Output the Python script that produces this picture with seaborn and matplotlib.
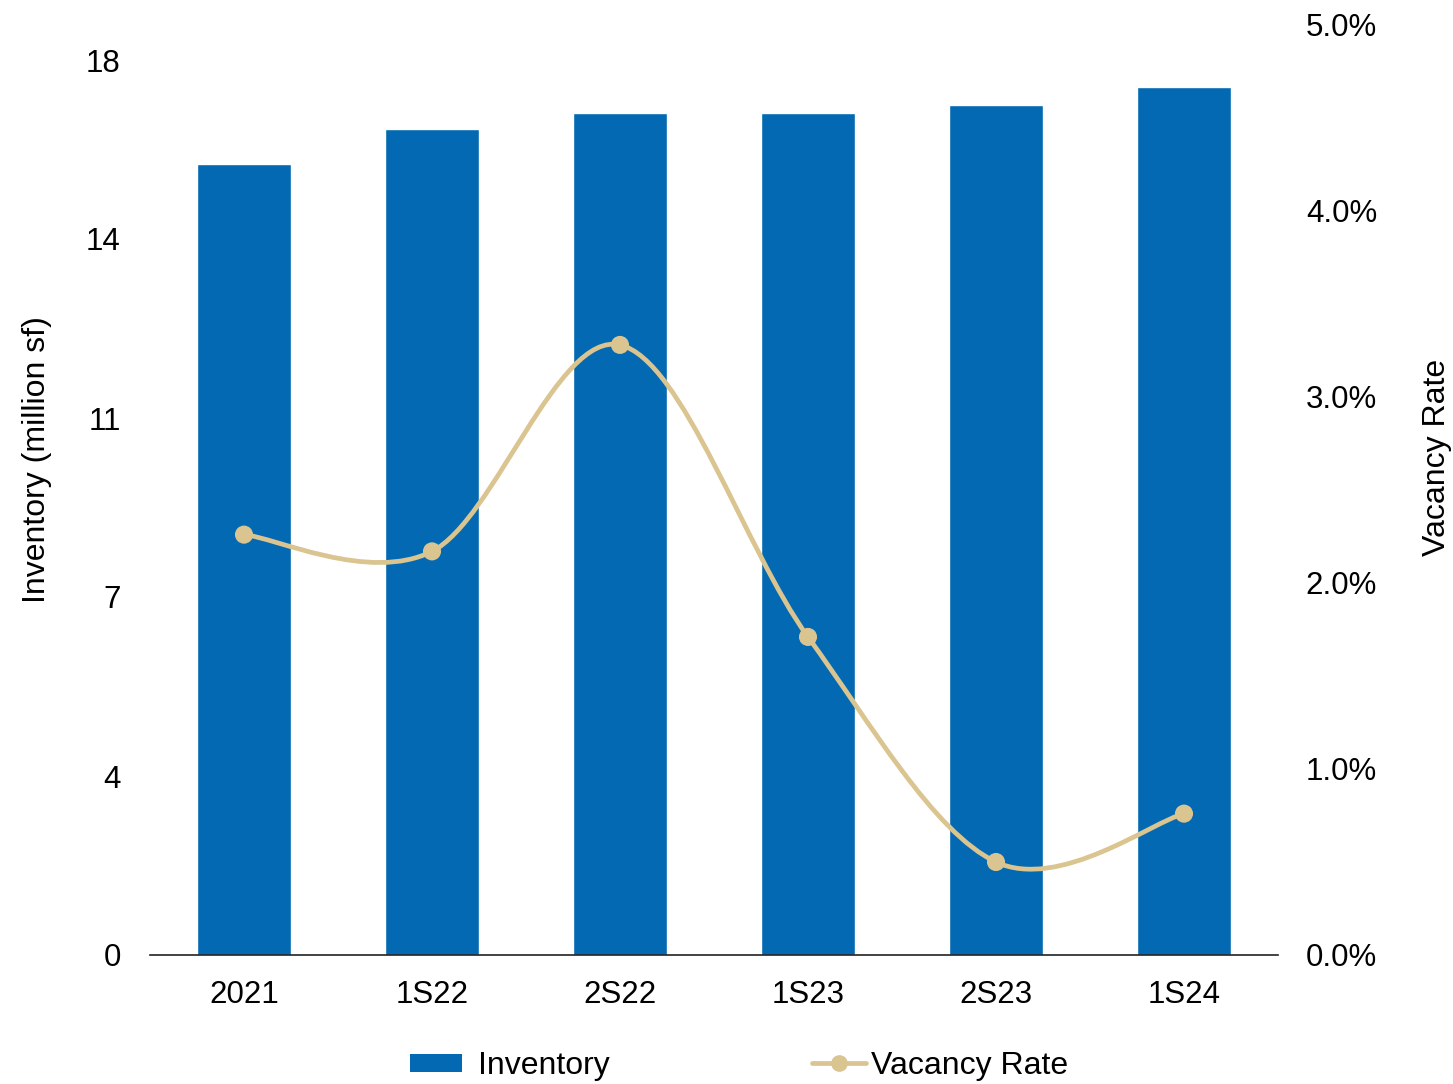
import numpy as np
import pandas as pd
import matplotlib.pyplot as plt
from matplotlib.path import Path
from matplotlib.patches import PathPatch, Patch
from matplotlib.lines import Line2D
from matplotlib.ticker import FuncFormatter
import seaborn as sns

# dados
periodos = ["2021", "1S22", "2S22", "1S23", "2S23", "1S24"]
inventario = [15.9, 16.62, 16.93, 16.93, 17.1, 17.45]
vacancia = [0.0226, 0.0217, 0.0328, 0.0171, 0.0050, 0.0076]

cor_barra = "#0369B3"
cor_linha = "#DAC48F"

sns.set_theme(style="white")
plt.rcParams["font.family"] = ["Liberation Sans", "DejaVu Sans"]
for k in ["text.color", "axes.labelcolor", "xtick.color", "ytick.color"]:
    plt.rcParams[k] = "black"

df = pd.DataFrame({"periodo": periodos, "inventario": inventario, "vacancia": vacancia})

fig = plt.figure(figsize=(14.53, 10.84), dpi=100)
ax = fig.add_axes([150 / 1453, 129 / 1084, 1128 / 1453, 930 / 1084])
sns.barplot(data=df, x="periodo", y="inventario", color=cor_barra, saturation=1,
            width=0.5, ax=ax)
ax.set_xlim(-0.5, 5.5)
ax.set_ylim(0, 18 * 930 / 895)
ax.set_yticks([0, 3.6, 7.2, 10.8, 14.4, 18])
ax.set_yticklabels(["0", "4", "7", "11", "14", "18"])
ax.set_xlabel("")
ax.set_ylabel("Inventory (million sf)", fontsize=23)
ax.yaxis.set_label_coords(-0.087, 0.533)
ax.tick_params(axis="both", labelsize=22.5, length=0)
ax.tick_params(axis="y", pad=21)
ax.tick_params(axis="x", pad=18)
for s in ["top", "left", "right"]:
    ax.spines[s].set_visible(False)
ax.spines["bottom"].set_color("#222222")
ax.spines["bottom"].set_linewidth(1.2)

# eixo secundário - taxa de vacância com linha suavizada
ax2 = ax.twinx()
ax2.set_ylim(0, 0.05)
ax2.set_yticks(np.arange(0, 0.051, 0.01))
ax2.yaxis.set_major_formatter(FuncFormatter(lambda v, p: f"{v * 100:.1f}%"))
ax2.tick_params(axis="y", labelsize=22.5, length=0, pad=20)
ax2.set_ylabel("Vacancy Rate", fontsize=23)
ax2.yaxis.set_label_coords(1.1277, 0.5355)
for s in ax2.spines.values():
    s.set_visible(False)

xs = np.arange(len(periodos), dtype=float)
ys = np.array(vacancia)
verts = [(xs[0], ys[0])]
codes = [Path.MOVETO]
n = len(xs)
for i in range(n - 1):
    p0 = np.array([xs[max(i - 1, 0)], ys[max(i - 1, 0)]])
    p1 = np.array([xs[i], ys[i]])
    p2 = np.array([xs[i + 1], ys[i + 1]])
    p3 = np.array([xs[min(i + 2, n - 1)], ys[min(i + 2, n - 1)]])
    c1 = p1 + (p2 - p0) / 6
    c2 = p2 - (p3 - p1) / 6
    verts += [tuple(c1), tuple(c2), tuple(p2)]
    codes += [Path.CURVE4] * 3
ax2.add_patch(PathPatch(Path(verts, codes), facecolor="none", edgecolor=cor_linha,
                        lw=3.4, capstyle="round", zorder=3))
sns.scatterplot(x=xs, y=ys, color=cor_linha, s=170, edgecolor="none", ax=ax2, zorder=4)

# legenda em duas partes para acertar os espaçamentos
leg_y = 1 - 1066 / 1084
fig.legend([Patch(facecolor=cor_barra, edgecolor="none")], ["Inventory"],
           loc="center left", bbox_to_anchor=(410 / 1453, leg_y),
           frameon=False, fontsize=23, borderpad=0, borderaxespad=0,
           handlelength=1.63, handleheight=0.5, handletextpad=0.5)
fig.legend([Line2D([], [], color=cor_linha, lw=3.4, marker="o", markersize=11)],
           ["Vacancy Rate"], loc="center left",
           bbox_to_anchor=(812 / 1453, leg_y), frameon=False, fontsize=23,
           borderpad=0, borderaxespad=0, handlelength=1.7, handletextpad=0.15)

fig.savefig("out.png", dpi=100)
